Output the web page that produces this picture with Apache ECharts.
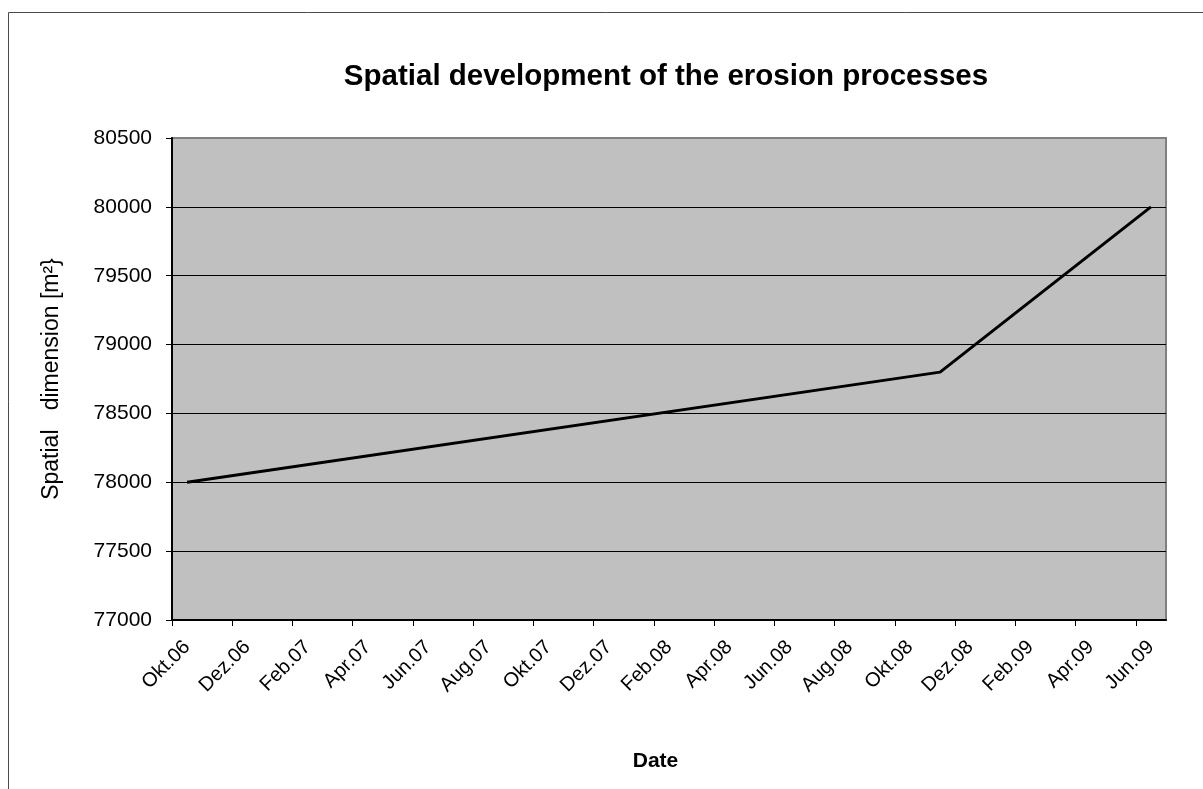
<!DOCTYPE html>
<html>
<head>
<meta charset="utf-8">
<title>Spatial development of the erosion processes</title>
<script src="https://cdn.jsdelivr.net/npm/echarts@6/dist/echarts.min.js"></script>
<style>
  html, body { margin: 0; padding: 0; background: #fff; }
  #chart { width: 1203px; height: 789px; }
</style>
</head>
<body>
<div id="chart"></div>
<script>
// Survey dates (year-month) and measured eroded area in m²
const surveyMonths = ['2006-10', '2008-11', '2009-06'];
const areaM2 = [78000, 78800, 80000];

// Date axis: monthly base unit, labelled every second month
const axisStartMonth = '2006-10';
const axisEndMonth = '2009-07';
const tickLabels = [
  'Okt.06', 'Dez.06', 'Feb.07', 'Apr.07', 'Jun.07', 'Aug.07', 'Okt.07', 'Dez.07',
  'Feb.08', 'Apr.08', 'Jun.08', 'Aug.08', 'Okt.08', 'Dez.08', 'Feb.09', 'Apr.09', 'Jun.09'
];

// Y axis range
const yMin = 77000, yMax = 80500, yStep = 500;

const FONT = '"Liberation Sans", Arial, sans-serif';

function monthIndex(ym) {
  const [y, m] = ym.split('-').map(Number);
  const [y0, m0] = axisStartMonth.split('-').map(Number);
  return (y - y0) * 12 + (m - m0);
}

const axisMonths = monthIndex(axisEndMonth);
const tickPositions = tickLabels.map((_, i) => i * 2);
// each value sits in the middle of its month
const seriesData = surveyMonths.map((ym, i) => [monthIndex(ym) + 0.5, areaM2[i]]);

const chart = echarts.init(document.getElementById('chart'), null, { renderer: 'canvas' });

chart.setOption({
  animation: false,
  backgroundColor: '#ffffff',
  textStyle: { fontFamily: FONT },
  title: {
    text: 'Spatial development of the erosion processes',
    left: 661,
    top: 57,
    textAlign: 'center',
    textStyle: { fontFamily: FONT, fontSize: 29.5, fontWeight: 'bold', color: '#000' }
  },
  graphic: [{
    type: 'rect',
    z: -10,
    silent: true,
    shape: { x: 8.5, y: 12.5, width: 1300, height: 900 },
    style: { fill: 'none', stroke: '#4a4a4a', lineWidth: 1 }
  }],
  grid: {
    left: 172, top: 138, right: 37, bottom: 169,
    show: true,
    backgroundColor: '#c0c0c0',
    borderColor: '#808080',
    borderWidth: 2,
    containLabel: false,
    outerBoundsMode: 'none'
  },
  xAxis: {
    type: 'value',
    min: 0,
    max: axisMonths,
    interval: 2,
    name: 'Date',
    nameLocation: 'middle',
    nameGap: 131,
    nameTextStyle: {
      fontFamily: FONT, fontSize: 21, fontWeight: 'bold', color: '#000',
      padding: [0, 27, 0, 0]
    },
    axisLine: { show: true, onZero: false, lineStyle: { color: '#000', width: 2 } },
    axisTick: {
      show: true, inside: false, length: 6,
      customValues: tickPositions,
      lineStyle: { color: '#000', width: 1 }
    },
    axisLabel: {
      show: true,
      rotate: 45,
      margin: 24,
      customValues: tickPositions.map(v => v + 0.5),
      formatter: v => tickLabels[Math.floor(v / 2)] || '',
      fontFamily: FONT, fontSize: 20, color: '#000'
    },
    splitLine: { show: false }
  },
  yAxis: {
    type: 'value',
    min: yMin,
    max: yMax,
    interval: yStep,
    name: 'Spatial   dimension [m²}',
    nameLocation: 'middle',
    nameGap: 109,
    nameTextStyle: { fontFamily: FONT, fontSize: 23, color: '#000' },
    axisLine: { show: true, lineStyle: { color: '#000', width: 2 } },
    axisTick: { show: true, inside: false, length: 6, lineStyle: { color: '#000', width: 1 } },
    axisLabel: {
      margin: 20,
      formatter: v => String(v),
      fontFamily: FONT, fontSize: 21, color: '#000'
    },
    splitLine: {
      show: true,
      showMinLine: false,
      showMaxLine: false,
      lineStyle: { color: '#000', width: 1 }
    }
  },
  series: [{
    type: 'line',
    data: seriesData,
    showSymbol: false,
    symbol: 'none',
    lineStyle: { color: '#000', width: 3 },
    z: 5
  }]
});
</script>
</body>
</html>
